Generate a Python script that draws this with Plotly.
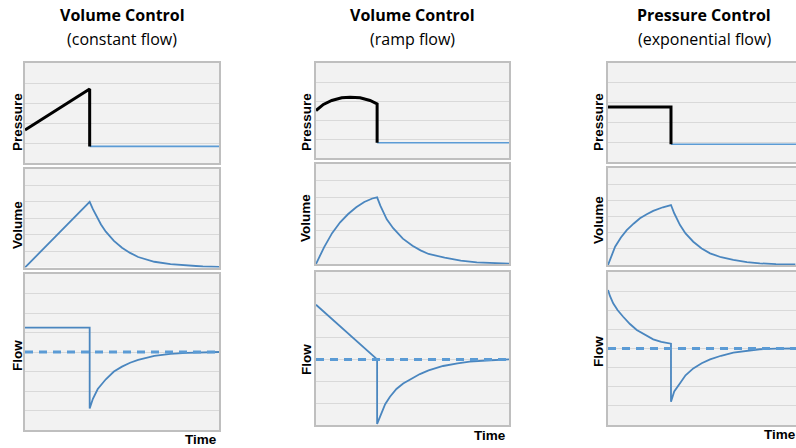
import plotly.graph_objects as go

# ---------------- data ----------------
titles = ["Volume Control", "Volume Control", "Pressure Control"]
subtitles = ["(constant flow)", "(ramp flow)", "(exponential flow)"]
row_labels = ["Pressure", "Volume", "Flow"]
time_label = "Time"

# column 1: volume control, constant flow
c1_p_insp_t = [0, 2, 2]
c1_p_insp = [1.65, 3.7, 0.83]
c1_p_exp_t = [2, 6]
c1_p_exp = [0.83, 0.83]
c1_v_t = [0, 2, 2.1, 2.2, 2.35, 2.5, 2.75, 3, 3.25, 3.5, 4, 4.5, 5, 5.5, 6]
c1_v = [0, 4, 3.55, 3.14, 2.62, 2.18, 1.62, 1.2, 0.89, 0.64, 0.35, 0.2, 0.11, 0.06, 0.03]
c1_f_t = [0, 2, 2, 2.1, 2.25, 2.5, 2.75, 3, 3.25, 3.5, 4, 4.5, 5, 5.5, 6]
c1_f = [5.25, 5.25, 1.1, 1.6, 2.1, 2.6, 3.0, 3.25, 3.45, 3.6, 3.8, 3.9, 3.95, 3.98, 4.0]
c1_zero = 4

# column 2: volume control, ramp flow
c2_p_insp_t = [0, 0.23, 0.49, 0.8, 1.06, 1.37, 1.68, 1.9, 1.9]
c2_p_insp = [2.5, 2.82, 3.03, 3.17, 3.2, 3.17, 3.03, 2.85, 0.8]
c2_p_exp_t = [1.9, 6]
c2_p_exp = [0.8, 0.8]
c2_v_t = [0, 0.25, 0.5, 0.75, 1.0, 1.25, 1.5, 1.75, 1.9, 2.0, 2.2, 2.4, 2.7, 3.0,
          3.25, 3.5, 4.0, 4.5, 5.0, 5.5, 6.0]
c2_v = [0, 1.0, 1.85, 2.5, 3.0, 3.4, 3.72, 3.93, 4.0, 3.5, 2.68, 2.15, 1.52, 1.1,
        0.82, 0.6, 0.38, 0.2, 0.1, 0.05, 0.02]
c2_f_t = [0, 1.9, 1.9, 2.04, 2.15, 2.3, 2.5, 2.71, 3.0, 3.23, 3.5, 3.95, 4.4, 4.78, 5.3, 6.0]
c2_f = [5.5, 3.0, 0.05, 0.53, 0.95, 1.29, 1.65, 1.9, 2.15, 2.33, 2.5, 2.7, 2.82, 2.9, 2.95, 3.0]
c2_zero = 3

# column 3: pressure control, exponential flow
c3_p_insp_t = [0, 1.95, 1.95]
c3_p_insp = [2.78, 2.78, 0.9]
c3_p_exp_t = [1.95, 6]
c3_p_exp = [0.9, 0.9]
c3_v_t = [0, 0.22, 0.4, 0.58, 0.8, 0.99, 1.2, 1.4, 1.7, 1.95, 2.05, 2.23, 2.4, 2.64,
          2.9, 3.16, 3.5, 3.88, 4.3, 4.7, 5.2, 5.8]
c3_v = [0, 1.13, 1.7, 2.16, 2.57, 2.89, 3.14, 3.35, 3.57, 3.71, 3.2, 2.47, 1.95, 1.44,
        1.02, 0.72, 0.48, 0.31, 0.18, 0.1, 0.06, 0.04]
c3_f_t = [0, 0.06, 0.16, 0.3, 0.47, 0.68, 0.89, 1.15, 1.4, 1.65, 1.95, 1.95, 2.05, 2.23,
          2.4, 2.64, 2.9, 3.16, 3.5, 3.88, 4.3, 4.7, 5.2, 5.8]
c3_f = [7.06, 6.75, 6.36, 6.0, 5.66, 5.28, 4.97, 4.7, 4.48, 4.35, 4.25, 1.22, 1.75, 2.18,
        2.6, 2.96, 3.23, 3.43, 3.62, 3.78, 3.89, 3.96, 3.99, 4.0]
c3_zero = 4

# y-axis ranges (gridline count) per row and column
p_ranges = [5, 5, 5]
v_ranges = [6, 6, 6]
f_ranges = [8, 7, 8]
x_ranges = [6, 6, 5.82]

# ---------------- layout geometry (pixels) ----------------
W, H = 796, 448
col_x = [(25, 219), (316, 509), (608, 796)]
col_rows = [
    [(63, 163), (169, 267.5), (274, 430)],
    [(63, 158), (164, 264), (272, 425)],
    [(63, 162), (168, 265), (272, 425)],
]

BLUE = "#4a86bf"
DASH = "#5b9bd5"
BG = "#f2f2f2"
GRID = "#d9d9d9"
BORDER = "#bfbfbf"

def px_x(x):
    return x / W

def px_y(y):
    return 1 - y / H

fig = go.Figure()
layout = dict(width=W, height=H, margin=dict(l=0, r=0, t=0, b=0),
              paper_bgcolor="white", plot_bgcolor=BG, showlegend=False)

cols = [
    (c1_p_insp_t, c1_p_insp, c1_p_exp_t, c1_p_exp, c1_v_t, c1_v, c1_f_t, c1_f, c1_zero),
    (c2_p_insp_t, c2_p_insp, c2_p_exp_t, c2_p_exp, c2_v_t, c2_v, c2_f_t, c2_f, c2_zero),
    (c3_p_insp_t, c3_p_insp, c3_p_exp_t, c3_p_exp, c3_v_t, c3_v, c3_f_t, c3_f, c3_zero),
]

annotations = []
idx = 0
for c, data in enumerate(cols):
    pit, pi, pet, pe, vt, v, ft, f, zero = data
    ranges = [p_ranges[c], v_ranges[c], f_ranges[c]]
    for r in range(3):
        idx += 1
        xa = "x" if idx == 1 else f"x{idx}"
        ya = "y" if idx == 1 else f"y{idx}"
        top, bot = col_rows[c][r]
        x0, x1 = col_x[c]
        layout["xaxis" if idx == 1 else f"xaxis{idx}"] = dict(
            domain=[px_x(x0), px_x(x1)], range=[0, x_ranges[c]], anchor=ya,
            showgrid=False, showticklabels=False, ticks="", zeroline=False,
            showline=True, mirror=True, linecolor=BORDER, linewidth=1.5)
        layout["yaxis" if idx == 1 else f"yaxis{idx}"] = dict(
            domain=[px_y(bot), px_y(top)], range=[0, ranges[r]], anchor=xa,
            dtick=1, showgrid=True, gridcolor=GRID, gridwidth=1.2,
            showticklabels=False, ticks="", zeroline=False,
            showline=True, mirror=(c < 2), linecolor=BORDER, linewidth=1.5)
        if r == 0:
            fig.add_trace(go.Scatter(x=pet, y=pe, mode="lines", xaxis=xa, yaxis=ya,
                                     line=dict(color=DASH, width=1.6)))
            fig.add_trace(go.Scatter(x=pit, y=pi, mode="lines", xaxis=xa, yaxis=ya,
                                     line=dict(color="black", width=3)))
        elif r == 1:
            fig.add_trace(go.Scatter(x=vt, y=v, mode="lines", xaxis=xa, yaxis=ya,
                                     line=dict(color=BLUE, width=1.8)))
        else:
            fig.add_trace(go.Scatter(x=ft, y=f, mode="lines", xaxis=xa, yaxis=ya,
                                     line=dict(color=BLUE, width=1.8)))
            fig.add_trace(go.Scatter(x=[0, x_ranges[c]], y=[zero, zero], mode="lines",
                                     xaxis=xa, yaxis=ya,
                                     line=dict(color=DASH, width=3, dash="8px,6px")))

# titles
title_cx = [122, 412, 704]
for c in range(3):
    annotations.append(dict(text=f"<b>{titles[c]}</b>", x=px_x(title_cx[c]), y=px_y(15),
                            xref="paper", yref="paper", showarrow=False,
                            xanchor="center", yanchor="middle",
                            font=dict(family="Open Sans", size=16, color="black")))
    annotations.append(dict(text=subtitles[c], x=px_x(title_cx[c]), y=px_y(39),
                            xref="paper", yref="paper", showarrow=False,
                            xanchor="center", yanchor="middle",
                            font=dict(family="Open Sans", size=16, color="black")))

# row labels (vertical)
label_x = [17, 306, 598]
label_y = [
    [122, 225, 356],
    [122, 218, 360],
    [122, 220, 352],
]
for c in range(3):
    for r in range(3):
        annotations.append(dict(text=f"<b>{row_labels[r]}</b>", x=px_x(label_x[c]),
                                y=px_y(label_y[c][r]), xref="paper", yref="paper",
                                showarrow=False, textangle=-90,
                                xanchor="center", yanchor="middle",
                                font=dict(family="Liberation Sans", size=13.5, color="black")))

# time labels
time_pos = [(201, 439), (490, 435), (780, 434)]
for c in range(3):
    tx, ty = time_pos[c]
    annotations.append(dict(text=f"<b>{time_label}</b>", x=px_x(tx), y=px_y(ty),
                            xref="paper", yref="paper", showarrow=False,
                            xanchor="center", yanchor="middle",
                            font=dict(family="Liberation Sans", size=13.5, color="black")))

layout["annotations"] = annotations
fig.update_layout(**layout)
fig.write_html("out.html", config={"displayModeBar": False},
               post_script="document.body.style.margin='0px';")
